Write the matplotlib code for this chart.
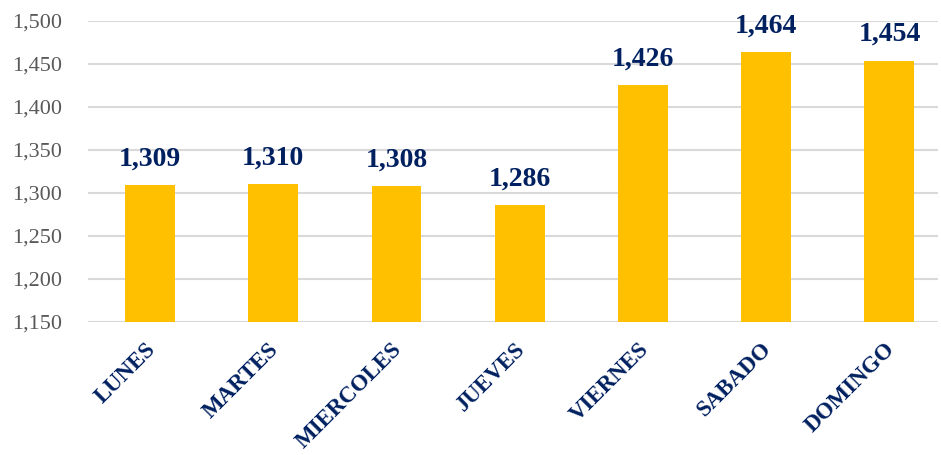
import matplotlib
matplotlib.use("Agg")
import matplotlib.pyplot as plt
import matplotlib.transforms as mtransforms
from matplotlib.ticker import FuncFormatter

days = ["LUNES", "MARTES", "MIERCOLES", "JUEVES", "VIERNES", "SABADO", "DOMINGO"]
values = [1309, 1310, 1308, 1286, 1426, 1464, 1454]
yticks = [1150, 1200, 1250, 1300, 1350, 1400, 1450, 1500]

navy = "#002060"
font = "Liberation Serif"

fig = plt.figure(figsize=(9.41, 4.55), dpi=100)
ax = fig.add_axes([88 / 941, 1 - 322 / 455, 850 / 941, 301 / 455])

x = list(range(len(days)))
ax.bar(x, values, width=0.405, color="#FFC000", zorder=3)
for xi, v in zip(x, values):
    ax.annotate(f"{v:,}", (xi, v), xytext=(0, 14), textcoords="offset points",
                ha="center", va="baseline", fontsize=20, fontweight="bold",
                color=navy, family=font)

ax.set_ylim(1150, 1500)
ax.set_xlim(-0.503, 6.394)
ax.set_yticks(yticks)
ax.yaxis.set_major_formatter(FuncFormatter(lambda v, p: f"{int(v):,}"))
ax.grid(axis="y", color="#D9D9D9", linewidth=1.5, zorder=0)
for s in ax.spines.values():
    s.set_visible(False)
ax.tick_params(axis="both", length=0)
ax.tick_params(axis="y", pad=19)
for lab in ax.get_yticklabels():
    lab.set_family(font)
    lab.set_fontsize(16)
    lab.set_color("#595959")

ax.set_xticks(x)
ax.set_xticklabels(days, rotation=45, ha="right", rotation_mode="anchor",
                   fontsize=16.5, fontweight="bold", color=navy, family=font)
ax.tick_params(axis="x", pad=12)
shift = mtransforms.ScaledTranslation(-5 / 100, 0, fig.dpi_scale_trans)
for lab in ax.get_xticklabels():
    lab.set_transform(lab.get_transform() + shift)

fig.savefig("out.png", dpi=100)
